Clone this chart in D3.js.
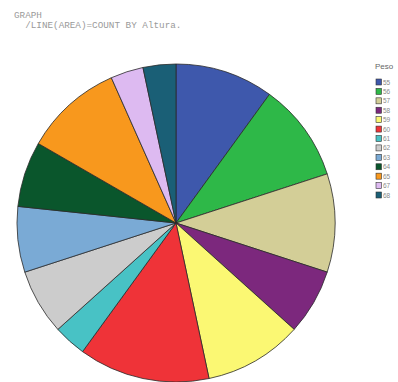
<!DOCTYPE html>
<html>
<head>
<meta charset="utf-8">
<script src="https://cdn.jsdelivr.net/npm/d3@7"></script>
<style>
  body { margin: 0; background: #fff; }
  svg { display: block; }
</style>
</head>
<body>
<div id="chart"></div>
<script>
// Peso categories and counts (COUNT BY Altura)
const pesos = ['55', '56', '57', '58', '59', '60', '61', '62', '63', '64', '65', '67', '68'];
const counts = [3, 3, 3, 2, 3, 4, 1, 2, 2, 2, 3, 1, 1];
const colors = ['#3e58ac', '#2eb848', '#d3ce97', '#7c287d', '#fbf873', '#ef3338',
                '#48c2c5', '#cccccc', '#7aaad5', '#0a562c', '#f8981d', '#ddbaf1', '#1a5f76'];
const syntax = ['GRAPH', '  /LINE(AREA)=COUNT BY Altura.'];

const width = 398;
const height = 382;
const cx = 176, cy = 223, radius = 159;

const svg = d3.select('#chart')
    .append('svg')
        .attr('width', width)
        .attr('height', height);

// syntax lines on top
svg.selectAll('.syntax')
    .data(syntax)
    .enter()
    .append('text')
        .attr('class', 'syntax')
        .attr('x', 14)
        .attr('y', (d, i) => 17.5 + i * 10)
        .attr('xml:space', 'preserve')
        .style('font-family', '"Liberation Mono", "DejaVu Sans Mono", monospace')
        .style('font-size', '9.3px')
        .style('fill', '#9a9a9a')
        .text(d => d);

const color = d3.scaleOrdinal()
    .domain(pesos)
    .range(colors);

const pie = d3.pie()
    .sort(null)
    .value(d => d.count);

const arc = d3.arc()
    .innerRadius(0)
    .outerRadius(radius);

const data = pesos.map((p, i) => ({peso: p, count: counts[i]}));

const pieGroup = svg.append('g')
    .attr('transform', 'translate(' + cx + ',' + cy + ')');

pieGroup.selectAll('path')
    .data(pie(data))
    .enter()
    .append('path')
        .attr('d', arc)
        .attr('fill', d => color(d.data.peso))
        .attr('stroke', '#2a2a2a')
        .attr('stroke-width', 0.8);

// legend
const legend = svg.append('g')
    .attr('transform', 'translate(375, 0)');

legend.append('text')
    .attr('x', 0)
    .attr('y', 69)
    .style('font-family', 'Arial, "Liberation Sans", sans-serif')
    .style('font-size', '8px')
    .style('fill', '#666')
    .text('Peso');

const rowY = d3.scalePoint()
    .domain(pesos)
    .range([82, 195]);

const rows = legend.selectAll('.row')
    .data(pesos)
    .enter()
    .append('g')
        .attr('class', 'row')
        .attr('transform', d => 'translate(1,' + rowY(d) + ')');

rows.append('rect')
    .attr('x', 0)
    .attr('y', -3)
    .attr('width', 5.5)
    .attr('height', 6)
    .attr('fill', d => color(d))
    .attr('stroke', '#333')
    .attr('stroke-width', 0.6);

rows.append('text')
    .attr('x', 7)
    .attr('y', 2.5)
    .style('font-family', 'Arial, "Liberation Sans", sans-serif')
    .style('font-size', '6.5px')
    .style('fill', '#888')
    .text(d => d);
</script>
</body>
</html>
